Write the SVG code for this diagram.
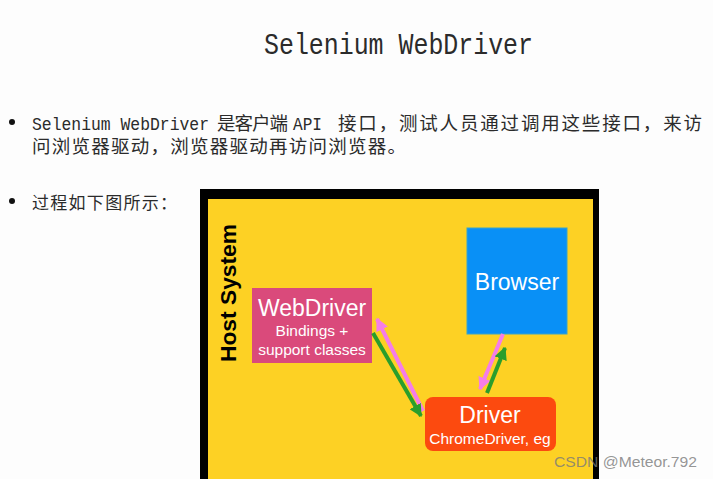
<svg xmlns="http://www.w3.org/2000/svg" width="713" height="479" viewBox="0 0 713 479">
  <defs>
    <style>
      .mono { font-family: "Liberation Mono", "DejaVu Sans Mono", monospace; fill: #2b2b2b; }
      .cjk { font-family: "Noto Sans CJK SC", "Liberation Sans", sans-serif; fill: #2b2b2b; font-size: 18.5px; }
      .lat { font-family: "Liberation Mono", "DejaVu Sans Mono", monospace; fill: #2b2b2b; font-size: 18px; }
      .bullet { fill: #111; }
      .lbl { font-family: "Liberation Sans", Arial, sans-serif; fill: #ffffff; text-anchor: middle; }
      .big { font-size: 23px; }
      .small { font-size: 15.5px; }
      .pinkln { stroke: #f57de8; stroke-width: 4; fill: none; }
      .greenln { stroke: #2a9e2c; stroke-width: 4; fill: none; }
    </style>
    <marker id="ahPink" viewBox="0 0 10 10" refX="9" refY="5" markerWidth="3.2" markerHeight="3.2" orient="auto" markerUnits="strokeWidth">
      <path d="M0,0 L10,5 L0,10 z" fill="#f57de8"/>
    </marker>
    <marker id="ahGreen" viewBox="0 0 10 10" refX="9" refY="5" markerWidth="3.2" markerHeight="3.2" orient="auto" markerUnits="strokeWidth">
      <path d="M0,0 L10,5 L0,10 z" fill="#2a9e2c"/>
    </marker>
  </defs>

  <rect x="0" y="0" width="713" height="479" fill="#fdfdfd"/>

  <g id="title">
    <text class="mono" x="264" y="54" font-size="30" textLength="269" lengthAdjust="spacingAndGlyphs">Selenium WebDriver</text>
  </g>

  <g id="bullets">
    <circle class="bullet" cx="12" cy="122" r="3"/>
    <text class="lat" x="32" y="130" textLength="177" lengthAdjust="spacingAndGlyphs">Selenium WebDriver</text>
    <text class="cjk" x="217" y="130" textLength="71" lengthAdjust="spacing">是客户端</text>
    <text class="lat" x="293" y="130" textLength="29" lengthAdjust="spacingAndGlyphs">API</text>
    <text class="cjk" x="338" y="130" textLength="364" lengthAdjust="spacing">接口，测试人员通过调用这些接口，来访</text>
    <text class="cjk" x="32" y="153" textLength="374" lengthAdjust="spacing">问浏览器驱动，浏览器驱动再访问浏览器。</text>
    <circle class="bullet" cx="12" cy="201" r="3"/>
    <text class="cjk" x="32" y="209" textLength="145" lengthAdjust="spacing" style="font-size:17px">过程如下图所示：</text>
  </g>

  <g id="host-system">
    <rect x="200" y="189" width="399" height="300" fill="#000000"/>
    <rect x="208" y="199" width="385" height="290" fill="#fdd124"/>
    <text transform="translate(236,293) rotate(-90)" font-family="Liberation Sans, Arial, sans-serif" font-weight="bold" font-size="22" text-anchor="middle" fill="#000" textLength="138" lengthAdjust="spacingAndGlyphs">Host System</text>
  </g>

  <g id="webdriver">
    <rect x="252" y="288" width="120" height="75" fill="#da4a7b"/>
    <text class="lbl big" x="312" y="316">WebDriver</text>
    <text class="lbl small" x="312" y="336">Bindings +</text>
    <text class="lbl small" x="312" y="355">support classes</text>
  </g>

  <g id="browser">
    <rect x="467" y="228" width="100" height="106" fill="#0990f6" stroke="#3aa3c8" stroke-width="1"/>
    <text class="lbl big" x="517" y="290">Browser</text>
  </g>

  <g id="driver">
    <rect x="425" y="397" width="131" height="54" rx="8" ry="8" fill="#fc4a0f"/>
    <text class="lbl big" x="490" y="423">Driver</text>
    <text class="lbl small" x="490" y="444">ChromeDriver, eg</text>
  </g>

  <g id="connectors">
    <line class="pinkln" x1="423" y1="411" x2="377" y2="319" marker-end="url(#ahPink)"/>
    <line class="greenln" x1="373" y1="333" x2="421" y2="416" marker-end="url(#ahGreen)"/>
    <line class="pinkln" x1="503" y1="334" x2="480" y2="389" marker-end="url(#ahPink)"/>
    <line class="greenln" x1="487" y1="393" x2="505" y2="348" marker-end="url(#ahGreen)"/>
  </g>

  <g id="watermark">
    <text x="554" y="467" font-family="Liberation Sans, Arial, sans-serif" font-size="15.5" fill="#7a7a7a" fill-opacity="0.8" textLength="143" lengthAdjust="spacingAndGlyphs">CSDN @Meteor.792</text>
  </g>
</svg>
